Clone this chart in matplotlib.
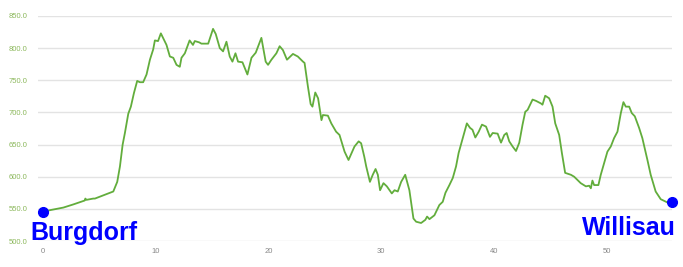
import matplotlib
matplotlib.use("Agg")
import matplotlib.pyplot as plt

# elevation profile Burgdorf -> Willisau (km, m)
km = [0.0, 0.62, 1.8, 2.7, 3.7, 3.75, 3.85, 4.45, 4.6, 6.23, 6.58, 6.82, 7.06, 7.26, 7.56,
      7.79, 8.06, 8.35, 8.59, 8.88, 9.18, 9.48, 9.77, 9.92, 10.2, 10.45, 10.7, 10.95,
      11.25, 11.55, 11.84, 12.13, 12.28, 12.58, 13.0, 13.3, 13.46, 13.85, 14.05, 14.65,
      15.08, 15.32, 15.68, 15.97, 16.27, 16.56, 16.8, 17.07, 17.3, 17.69, 18.13, 18.49,
      18.87, 19.37, 19.75, 19.96, 20.26, 20.7, 20.99, 21.28, 21.64, 22.17, 22.6, 23.06,
      23.2, 23.5, 23.74, 23.9, 24.15, 24.4, 24.7, 24.83, 25.27, 25.57, 26.0, 26.3,
      26.75, 27.1, 27.63, 28.0, 28.22, 28.5, 28.67, 29.0, 29.25, 29.5, 29.7, 29.9,
      30.2, 30.5, 30.94, 31.18, 31.47, 31.77, 32.13, 32.5, 32.86, 33.1, 33.54, 33.92,
      34.07, 34.28, 34.72, 35.16, 35.46, 35.7, 36.05, 36.35, 36.64, 36.87, 37.17,
      37.6, 37.88, 38.1, 38.35, 38.65, 38.94, 39.3, 39.65, 39.89, 40.33, 40.63, 40.92,
      41.13, 41.36, 41.66, 41.96, 42.25, 42.54, 42.78, 42.99, 43.43, 43.73, 44.17,
      44.31, 44.55, 44.9, 45.2, 45.44, 45.79, 46.03, 46.32, 46.83, 47.12, 47.7, 48.16,
      48.45, 48.6, 48.74, 48.89, 49.27, 49.48, 49.78, 50.07, 50.37, 50.66, 50.96,
      51.26, 51.49, 51.7, 52.0, 52.23, 52.5, 52.88, 53.17, 53.62, 53.91, 54.35, 54.8,
      55.39, 55.83]
elev = [545, 548, 552, 557, 563, 566, 564, 566, 566, 577, 592, 616, 650, 668, 698,
        709, 730, 749, 747, 747, 759, 782, 798, 812, 811, 823, 814, 805,
        787, 785, 774, 771, 785, 792, 812, 805, 811, 809, 807, 807,
        830, 822, 800, 795, 810, 787, 779, 792, 779, 778, 759, 785,
        793, 816, 779, 774, 782, 792, 803, 797, 782, 791, 787, 779,
        777, 740, 713, 709, 731, 722, 688, 696, 695, 683, 670, 665,
        639, 626, 647, 655, 652, 631, 616, 592, 603, 612, 603, 579,
        590, 585, 574, 579, 577, 592, 603, 579, 535, 530, 528, 533,
        538, 534, 540, 556, 561, 575, 587, 598, 616, 637, 656,
        683, 676, 673, 661, 670, 681, 678, 662, 668, 667, 653, 665,
        668, 655, 647, 640, 653, 681, 701, 704, 720, 718, 714,
        712, 726, 722, 709, 683, 665, 637, 606, 603, 600, 590, 585,
        586, 582, 594, 587, 587, 603, 621, 639, 647, 660, 670,
        699, 716, 709, 709, 699, 694, 676, 660, 626, 603, 577, 565,
        560, 560]

start_label = "Burgdorf"
end_label = "Willisau"
yticks = [500, 550, 600, 650, 700, 750, 800, 850]
xticks = [0, 10, 20, 30, 40, 50]

plt.rcParams['font.family'] = ['Liberation Sans', 'DejaVu Sans']

fig = plt.figure(figsize=(6.83, 2.67), dpi=100)
ax = fig.add_axes([38 / 683, 26 / 267, (672 - 38) / 683, (241 - 16) / 267])

ax.plot(km, elev, color='#62ad3c', lw=1.3, zorder=3)
ax.plot([km[0], km[-1]], [elev[0], elev[-1]], 'o', color='#0000ff', ms=7,
        clip_on=False, zorder=4)

ax.set_xlim(-0.45, 55.8)
ax.set_ylim(500, 850)
ax.set_yticks(yticks)
ax.set_yticklabels([f"{v:.1f}" for v in yticks], color='#8cb85c', fontsize=5.5)
ax.set_xticks(xticks)
ax.set_xticklabels([str(v) for v in xticks], color='#888888', fontsize=5.5)
ax.tick_params(length=0)
ax.tick_params(axis='x', pad=5)
ax.tick_params(axis='y', pad=7.5)
ax.grid(axis='y', color='#e3e3e3', lw=1)
for s in ax.spines.values():
    s.set_visible(False)

fig.text(30 / 683, 1 - 240 / 267, start_label, color='#0000ff', fontsize=18,
         fontweight='bold', ha='left', va='baseline')
fig.text(676 / 683, 1 - 235 / 267, end_label, color='#0000ff', fontsize=18,
         fontweight='bold', ha='right', va='baseline')

fig.savefig("out.png", dpi=100)
